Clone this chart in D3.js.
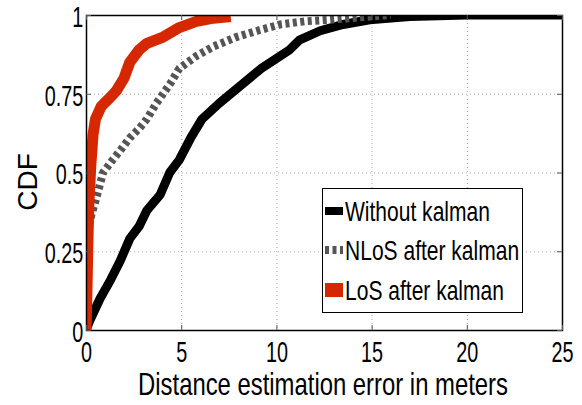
<!DOCTYPE html>
<html>
<head>
<meta charset="utf-8">
<script src="https://cdn.jsdelivr.net/npm/d3@7"></script>
<style>
body { margin: 0; background: #fff; }
text { font-family: "Liberation Sans", Arial, sans-serif; fill: #000; }
</style>
</head>
<body>
<script>
'use strict'
// values
const xTicks = [0, 5, 10, 15, 20, 25];
const yTicks = [0, 0.25, 0.5, 0.75, 1];

const withoutX = [0, 0.2, 0.74, 1.3, 1.8, 2.3, 2.8, 3.2, 3.9, 4.4, 4.9, 5.5, 6.1, 7.0, 7.6, 8.6, 9.2, 9.7, 10.2, 10.7, 11.2, 12.3, 13.5, 14.9, 17, 20, 25];
const withoutY = [0, 0.03, 0.1, 0.16, 0.22, 0.29, 0.33, 0.38, 0.43, 0.5, 0.54, 0.61, 0.67, 0.72, 0.75, 0.8, 0.83, 0.85, 0.87, 0.89, 0.92, 0.95, 0.97, 0.985, 0.995, 1, 1];

const nlosX = [0, 0.05, 0.15, 0.3, 0.5, 0.9, 1.4, 1.8, 2.3, 2.8, 3.2, 3.7, 4.4, 4.9, 5.8, 6.7, 7.9, 9, 10.2, 11.5, 12.8, 14.9, 16];
const nlosY = [0, 0.2, 0.33, 0.37, 0.41, 0.5, 0.54, 0.57, 0.61, 0.64, 0.67, 0.72, 0.78, 0.83, 0.87, 0.9, 0.93, 0.95, 0.97, 0.98, 0.985, 0.995, 1];

const losX = [0, 0.05, 0.1, 0.15, 0.25, 0.37, 0.5, 0.8, 1.3, 1.6, 2.0, 2.3, 2.8, 3.2, 4.05, 4.9, 5.8, 6.7, 7.6];
const losY = [0, 0.12, 0.28, 0.4, 0.52, 0.62, 0.67, 0.71, 0.74, 0.76, 0.8, 0.85, 0.89, 0.91, 0.93, 0.96, 0.98, 0.99, 0.995];

const seriesNames = ["Without kalman", "NLoS after kalman", "LoS after kalman"];

const w = 582;
const h = 405;
const pLeft = 86, pRight = 562, pTop = 15, pBottom = 330;

const xScale = d3.scaleLinear().domain([0, 25]).range([pLeft, pRight]);
const yScale = d3.scaleLinear().domain([0, 1]).range([pBottom, pTop]);

const svg = d3.select("body")
	.append("svg")
	.attr("width", w)
	.attr("height", h);

// grid
svg.append("g")
	.selectAll("line")
	.data(xTicks.slice(1, -1))
	.enter()
	.append("line")
	.attr("x1", d => xScale(d) + 0.5)
	.attr("x2", d => xScale(d) + 0.5)
	.attr("y1", pTop)
	.attr("y2", pBottom)
	.attr("stroke", "#aaa")
	.attr("stroke-dasharray", "1,3");

svg.append("g")
	.selectAll("line")
	.data(yTicks.slice(1, -1))
	.enter()
	.append("line")
	.attr("x1", pLeft)
	.attr("x2", pRight)
	.attr("y1", d => yScale(d) + 0.5)
	.attr("y2", d => yScale(d) + 0.5)
	.attr("stroke", "#aaa")
	.attr("stroke-dasharray", "1,3");

svg.append("clipPath")
	.attr("id", "plot")
	.append("rect")
	.attr("x", pLeft)
	.attr("y", pTop)
	.attr("width", pRight - pLeft)
	.attr("height", pBottom - pTop);

const line = d3.line()
	.x(d => xScale(d[0]))
	.y(d => yScale(d[1]));

const zip = (xs, ys) => xs.map((x, i) => [x, ys[i]]);

const series = [
	{ data: zip(withoutX, withoutY), color: "#000", width: 9, dash: null },
	{ data: zip(nlosX, nlosY), color: "#555", width: 8, dash: "4,3.5" },
	{ data: zip(losX, losY), color: "#d62800", width: 11, dash: null }
];

const lines = svg.append("g").attr("clip-path", "url(#plot)");
series.forEach(s => {
	lines.append("path")
		.datum(s.data)
		.attr("d", line)
		.attr("fill", "none")
		.attr("stroke", s.color)
		.attr("stroke-width", s.width)
		.attr("stroke-linejoin", "round")
		.attr("stroke-dasharray", s.dash);
});

// frame
svg.append("rect")
	.attr("x", pLeft + 0.5)
	.attr("y", pTop + 0.5)
	.attr("width", pRight - pLeft)
	.attr("height", pBottom - pTop)
	.attr("fill", "none")
	.attr("stroke", "#000")
	.attr("stroke-width", 1.5);

const squeeze = 0.66;

const xAxis = svg.append("g")
	.attr("transform", "translate(0," + pBottom + ")")
	.call(d3.axisBottom(xScale).tickValues(xTicks).tickSizeInner(-5).tickSizeOuter(0).tickPadding(11).tickFormat(d => d));
xAxis.select(".domain").remove();
xAxis.selectAll("line").attr("stroke", "#555");
xAxis.selectAll("text").attr("font-size", 30).attr("transform", "scale(" + squeeze + ",1)");

const yAxis = svg.append("g")
	.attr("transform", "translate(" + pLeft + ",0)")
	.call(d3.axisLeft(yScale).tickValues(yTicks).tickSizeInner(-5).tickSizeOuter(0).tickPadding(4).tickFormat(d => d));
yAxis.select(".domain").remove();
yAxis.selectAll("line").attr("stroke", "#555");
yAxis.selectAll("text")
	.attr("font-size", 30)
	.attr("dy", "0.38em")
	.attr("transform", "scale(" + squeeze + ",1)");

const topAxis = svg.append("g")
	.attr("transform", "translate(0," + pTop + ")")
	.call(d3.axisTop(xScale).tickValues(xTicks).tickSizeInner(-5).tickSizeOuter(0).tickFormat(""));
topAxis.select(".domain").remove();
topAxis.selectAll("line").attr("stroke", "#555");

const rightAxis = svg.append("g")
	.attr("transform", "translate(" + pRight + ",0)")
	.call(d3.axisRight(yScale).tickValues(yTicks).tickSizeInner(-5).tickSizeOuter(0).tickFormat(""));
rightAxis.select(".domain").remove();
rightAxis.selectAll("line").attr("stroke", "#555");

// axis titles
const xTitle = svg.append("text")
	.attr("font-size", 32)
	.attr("text-anchor", "middle")
	.text("Distance estimation error in meters");
const xLen = xTitle.node().getComputedTextLength();
xTitle.attr("transform", "translate(323,395) scale(" + (370 / xLen) + ",1)");

svg.append("text")
	.attr("font-size", 28)
	.attr("text-anchor", "middle")
	.attr("transform", "translate(37,182) rotate(-90)")
	.text("CDF");

// legend
const legend = svg.append("g");
legend.append("rect")
	.attr("x", 322.5)
	.attr("y", 188.5)
	.attr("width", 200)
	.attr("height", 124)
	.attr("fill", "#fff")
	.attr("stroke", "#000");

const rowY = [211, 250, 290];
const sampleW = [8, 8, 14];
let legendScale = 1;
seriesNames.forEach((name, i) => {
	legend.append("line")
		.attr("x1", 325)
		.attr("x2", 343)
		.attr("y1", rowY[i])
		.attr("y2", rowY[i])
		.attr("stroke", series[i].color)
		.attr("stroke-width", sampleW[i])
		.attr("stroke-dasharray", series[i].dash);
	const t = legend.append("text")
		.attr("font-size", 27)
		.text(name);
	if (i === 0) legendScale = 145 / t.node().getComputedTextLength();
	t.attr("transform", "translate(345," + (rowY[i] + 10) + ") scale(" + legendScale + ",1)");
});
</script>
</body>
</html>
